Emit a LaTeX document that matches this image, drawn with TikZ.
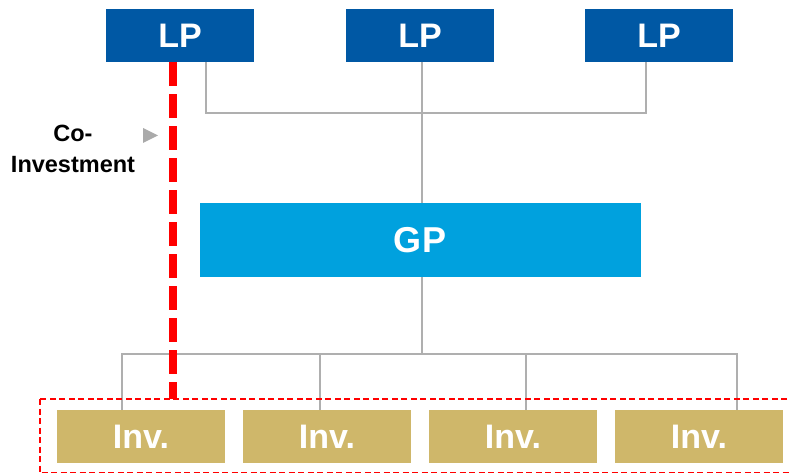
\documentclass[tikz,border=0pt]{standalone}
\usepackage{fontspec}
\setmainfont{Liberation Sans}
\definecolor{lpblue}{RGB}{0,88,164}
\definecolor{gpblue}{RGB}{0,161,222}
\definecolor{invgold}{RGB}{207,183,106}
\definecolor{linegray}{RGB}{175,175,175}
\definecolor{trigray}{RGB}{170,170,170}
\begin{document}
\begin{tikzpicture}[x=1pt,y=-1pt,
  box/.style={inner sep=0pt, text=white, font=\fontsize{34}{40}\selectfont\bfseries},
  lpbox/.style={box, fill=lpblue, minimum width=148pt, minimum height=53pt},
  gpbox/.style={box, fill=gpblue, minimum width=441pt, minimum height=74pt, font=\fontsize{36}{42}\selectfont\bfseries},
  invbox/.style={box, fill=invgold, minimum width=168pt, minimum height=53pt},
  conn/.style={draw=linegray, line width=1.6pt},
  coinv/.style={draw=red, line width=8pt, dash pattern=on 24pt off 8pt},
  frame/.style={draw=red, line width=2pt, dash pattern=on 6pt off 3.5pt}]
\useasboundingbox (0,0) rectangle (790,473);
% nodes
\node[lpbox] (LP1) at (180,35.5) {LP};
\node[lpbox] (LP2) at (420,35.5) {LP};
\node[lpbox] (LP3) at (659,35.5) {LP};
\node[gpbox] (GP) at (420,240) {GP};
\node[invbox] (I1) at (141,436.5) {Inv.};
\node[invbox] (I2) at (327,436.5) {Inv.};
\node[invbox] (I3) at (513,436.5) {Inv.};
\node[invbox] (I4) at (699,436.5) {Inv.};
\coordinate (tb) at (0,113);
\coordinate (bb) at (0,354);
\coordinate (ftl) at (40,399);
\coordinate (fbr) at (800,473.3);
\coordinate (d1) at ([xshift=26pt]LP1.south);
\coordinate (d3) at ([xshift=-13pt]LP3.south);
\coordinate (d2) at ([xshift=2pt]LP2.south);
\coordinate (g1) at ([xshift=2pt]GP.north);
\coordinate (g2) at ([xshift=2pt]GP.south);
\coordinate (u1) at ([xshift=-19pt]I1.north);
\coordinate (u2) at ([xshift=-7pt]I2.north);
\coordinate (u3) at ([xshift=13pt]I3.north);
\coordinate (u4) at ([xshift=38pt]I4.north);
\coordinate (cv) at ([xshift=-7pt]LP1.south);
% connectors top
\draw[conn] (d1) |- (tb -| d3) -- (d3);
\draw[conn] (d2) -- (g1);
% connectors bottom
\draw[conn] (g2) -- (g2 |- bb);
\draw[conn] (u1) |- (bb -| u4) -- (u4);
\draw[conn] (u2) -- (u2 |- bb);
\draw[conn] (u3) -- (u3 |- bb);
% co-investment
\draw[frame] (ftl) rectangle (fbr);
\draw[coinv] (cv) -- (cv |- ftl);
\node[align=center, font=\fontsize{23.5}{31}\selectfont\bfseries, inner sep=0pt] (co) at (73,149) {Co-\\Investment};
\fill[trigray] (143,128) -- (158,135.5) -- (143,143) -- cycle;
\end{tikzpicture}
\end{document}
